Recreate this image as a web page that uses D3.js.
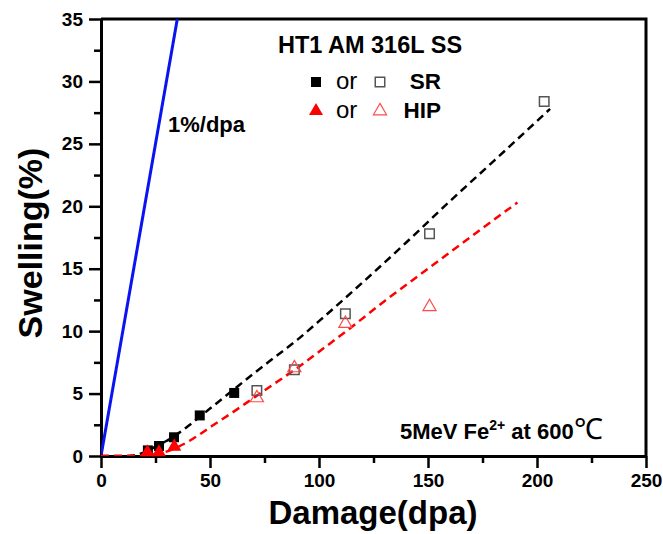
<!DOCTYPE html>
<html>
<head>
<meta charset="utf-8">
<script src="https://cdn.jsdelivr.net/npm/d3@7"></script>
<style>
  body { margin: 0; background: #fff; }
  text { font-family: Arial, "Liberation Sans", sans-serif; }
</style>
</head>
<body>
<div id="chart"></div>
<script>
// data
var srFilledX = [21.5, 26.6, 33.5, 45.3, 61.1];
var srFilledY = [0.45, 0.8, 1.5, 3.25, 5.05];
var srOpenX = [71.5, 88.7, 112.1, 150.7, 203.3];
var srOpenY = [5.25, 6.9, 11.4, 17.8, 28.4];
var hipFilledX = [21.3, 26.6, 33.6];
var hipFilledY = [0.3, 0.3, 0.75];
var hipOpenX = [71.5, 88.7, 112.1, 150.7];
var hipOpenY = [4.65, 7.05, 10.6, 11.95];

// fitted curves (dashed)
var srFitX = [0, 10, 15, 20, 25, 30, 35, 40, 50, 60, 70, 80, 90, 100, 120, 140, 160, 180, 206];
var srFitY = [0, 0, 0.05, 0.3, 0.75, 1.2, 1.75, 2.4, 3.8, 5.2, 6.6, 7.95, 9.3, 10.8, 13.9, 17.1, 20.4, 23.6, 27.8];
var hipFitX = [0, 15, 20, 25, 30, 35, 40, 45, 50, 60, 70, 80, 90, 100, 114, 130, 150, 170, 191];
var hipFitY = [0, 0, 0.05, 0.15, 0.35, 0.7, 1.15, 1.7, 2.3, 3.45, 4.65, 5.85, 7.05, 8.35, 10.2, 12.4, 15.0, 17.6, 20.3];

// 1%/dpa reference line
var refX = [0, 35];
var refY = [0, 35];

var xTicks = [0, 50, 100, 150, 200, 250];
var yTicks = [0, 5, 10, 15, 20, 25, 30, 35];

var svgWidth = 663;
var svgHeight = 534;
var margin = { top: 19, right: 17, bottom: 78, left: 101 };
var width = svgWidth - margin.left - margin.right;
var height = svgHeight - margin.top - margin.bottom;

var svg = d3.select("#chart").append("svg")
  .attr("width", svgWidth)
  .attr("height", svgHeight)
  .style("background", "#fff");

var chartGroup = svg.append("g")
  .attr("transform", `translate(${margin.left}, ${margin.top})`);

var x = d3.scaleLinear().domain([0, 250]).range([0, width]);
var y = d3.scaleLinear().domain([0, 35]).range([height, 0]);

chartGroup.append("clipPath").attr("id", "clip")
  .append("rect").attr("width", width).attr("height", height);

// minor ticks
var xMinor = d3.range(25, 250, 50);
var yMinor = d3.range(2.5, 35, 5);

var xAxis = chartGroup.append("g")
  .attr("transform", `translate(0, ${height})`)
  .call(d3.axisBottom(x).tickValues(xTicks).tickSize(12).tickPadding(6).tickSizeOuter(0));
chartGroup.append("g")
  .attr("transform", `translate(0, ${height})`)
  .call(d3.axisBottom(x).tickValues(xMinor).tickSize(7).tickFormat("").tickSizeOuter(0))
  .select(".domain").remove();

var yAxis = chartGroup.append("g")
  .call(d3.axisLeft(y).tickValues(yTicks).tickSize(12).tickPadding(6).tickSizeOuter(0));
chartGroup.append("g")
  .call(d3.axisLeft(y).tickValues(yMinor).tickSize(7).tickFormat("").tickSizeOuter(0))
  .select(".domain").remove();

chartGroup.selectAll(".tick line").attr("stroke", "#000").attr("stroke-width", 2.5);
chartGroup.selectAll(".domain").attr("stroke-width", 3);
chartGroup.selectAll(".tick text")
  .style("font-size", "19px")
  .style("font-weight", "bold")
  .attr("fill", "#000");

// top and right frame
chartGroup.append("path")
  .attr("d", `M0,0H${width}V${height}`)
  .attr("fill", "none")
  .attr("stroke", "#000")
  .attr("stroke-width", 3);

var plot = chartGroup.append("g").attr("clip-path", "url(#clip)");

var line = d3.line().x(d => x(d[0])).y(d => y(d[1]));

plot.append("path")
  .datum(d3.zip(refX, refY))
  .attr("d", line)
  .attr("fill", "none")
  .attr("stroke", "#0a14f0")
  .attr("stroke-width", 3);

var smooth = d3.line().curve(d3.curveMonotoneX).x(d => x(d[0])).y(d => y(d[1]));

plot.append("path")
  .datum(d3.zip(srFitX, srFitY))
  .attr("d", smooth)
  .attr("fill", "none")
  .attr("stroke", "#000")
  .attr("stroke-width", 2.5)
  .attr("stroke-dasharray", "8,5");

plot.append("path")
  .datum(d3.zip(hipFitX, hipFitY))
  .attr("d", smooth)
  .attr("fill", "none")
  .attr("stroke", "#f00")
  .attr("stroke-width", 2.5)
  .attr("stroke-dasharray", "8,5");

var sq = d3.symbol().type(d3.symbolSquare).size(100);
var sqOpen = d3.symbol().type(d3.symbolSquare).size(90);
var tri = d3.symbol().type(d3.symbolTriangle).size(85);
var triOpen = d3.symbol().type(d3.symbolTriangle).size(75);

chartGroup.selectAll(".srOpen")
  .data(d3.zip(srOpenX, srOpenY))
  .enter().append("path")
  .attr("class", "srOpen")
  .attr("transform", d => `translate(${x(d[0])}, ${y(d[1])})`)
  .attr("d", sqOpen)
  .attr("fill", "none")
  .attr("stroke", "#555")
  .attr("stroke-width", 1.5);

chartGroup.selectAll(".srFilled")
  .data(d3.zip(srFilledX, srFilledY))
  .enter().append("path")
  .attr("class", "srFilled")
  .attr("transform", d => `translate(${x(d[0])}, ${y(d[1])})`)
  .attr("d", sq)
  .attr("fill", "#000");

chartGroup.selectAll(".hipOpen")
  .data(d3.zip(hipOpenX, hipOpenY))
  .enter().append("path")
  .attr("class", "hipOpen")
  .attr("transform", d => `translate(${x(d[0])}, ${y(d[1])})`)
  .attr("d", triOpen)
  .attr("fill", "none")
  .attr("stroke", "#ff4a4a")
  .attr("stroke-width", 1.2);

chartGroup.selectAll(".hipFilled")
  .data(d3.zip(hipFilledX, hipFilledY))
  .enter().append("path")
  .attr("class", "hipFilled")
  .attr("transform", d => `translate(${x(d[0])}, ${y(d[1])})`)
  .attr("d", tri)
  .attr("fill", "#f00");

// legend
svg.append("text")
  .attr("x", 370).attr("y", 53)
  .attr("text-anchor", "middle")
  .style("font-size", "23.5px").style("font-weight", "bold")
  .text("HT1 AM 316L SS");

svg.append("path").attr("transform", "translate(316, 82)").attr("d", sq).attr("fill", "#000");
svg.append("path").attr("transform", "translate(380, 82)").attr("d", sqOpen)
  .attr("fill", "none").attr("stroke", "#555").attr("stroke-width", 1.5);
svg.append("path").attr("transform", "translate(316, 111)").attr("d", tri).attr("fill", "#f00");
svg.append("path").attr("transform", "translate(380, 111)").attr("d", triOpen)
  .attr("fill", "none").attr("stroke", "#ff4a4a").attr("stroke-width", 1.2);

svg.selectAll(".orText")
  .data([89, 118])
  .enter().append("text")
  .attr("x", 336).attr("y", d => d)
  .style("font-size", "24px")
  .text("or");

svg.append("text").attr("x", 441).attr("y", 89).attr("text-anchor", "end")
  .style("font-size", "22.5px").style("font-weight", "bold").text("SR");
svg.append("text").attr("x", 441).attr("y", 118).attr("text-anchor", "end")
  .style("font-size", "22.5px").style("font-weight", "bold").text("HIP");

// annotations
svg.append("text")
  .attr("x", 168).attr("y", 132)
  .style("font-size", "22px").style("font-weight", "bold")
  .text("1%/dpa");

var ann = svg.append("text")
  .attr("x", 400).attr("y", 439)
  .style("font-size", "22px").style("font-weight", "bold");
ann.append("tspan").text("5MeV Fe");
ann.append("tspan").attr("dy", -9).style("font-size", "14px").text("2+");
ann.append("tspan").attr("dy", 9).text(" at 600");
ann.append("tspan")
  .style("font-family", "'Liberation Serif', serif")
  .style("font-weight", "normal")
  .style("font-size", "29px")
  .text("\u2103");

// axis titles
svg.append("text")
  .attr("x", 373).attr("y", 524)
  .attr("text-anchor", "middle")
  .style("font-size", "33px").style("font-weight", "bold")
  .text("Damage(dpa)");

svg.append("text")
  .attr("transform", "translate(42, 243) rotate(-90)")
  .attr("text-anchor", "middle")
  .style("font-size", "34px").style("font-weight", "bold")
  .text("Swelling(%)");
</script>
</body>
</html>
